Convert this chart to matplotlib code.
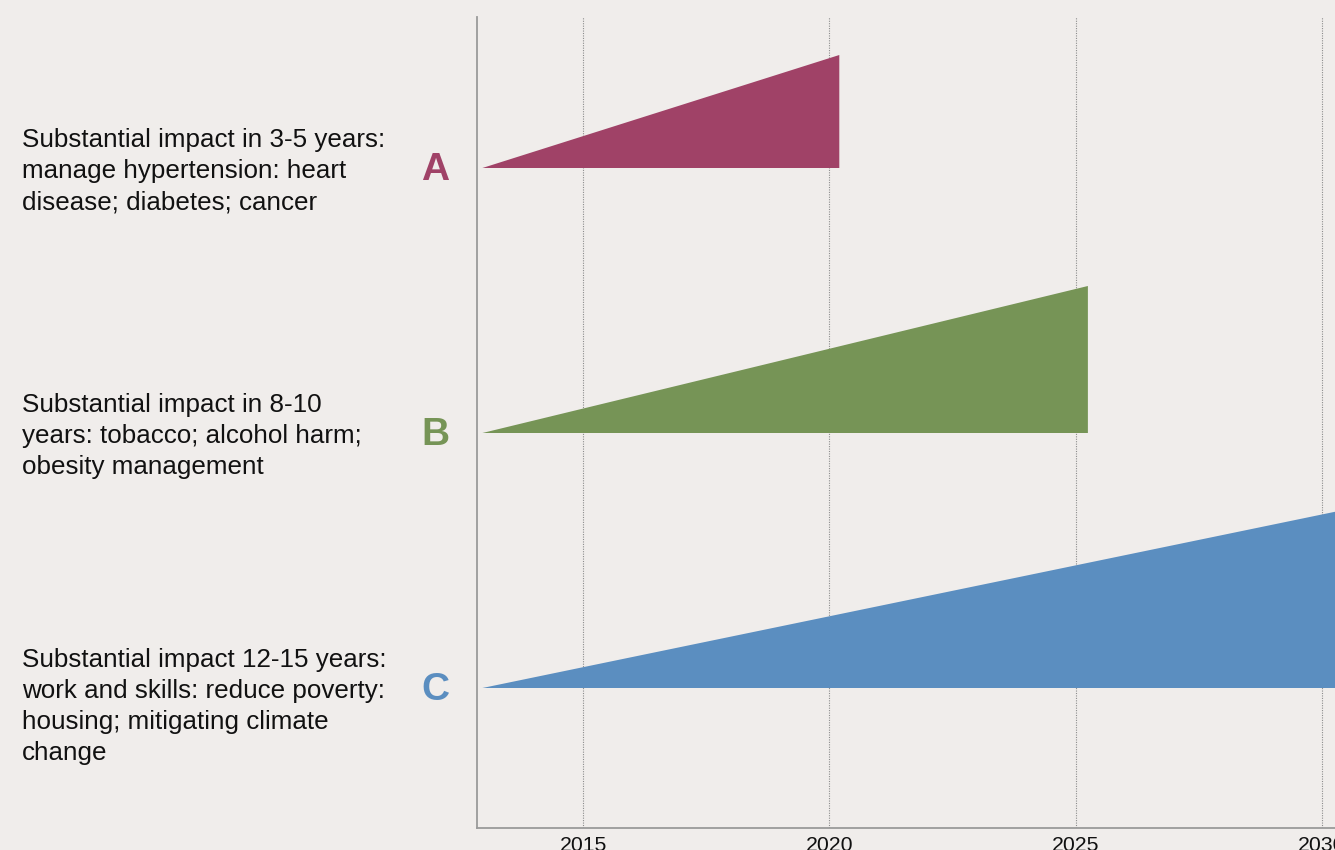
import matplotlib.pyplot as plt

# Phased impact timeline: each programme ramps up from the start year
labels = ["A", "B", "C"]
descriptions = [
    "Substantial impact in 3-5 years:\nmanage hypertension: heart\ndisease; diabetes; cancer",
    "Substantial impact in 8-10\nyears: tobacco; alcohol harm;\nobesity management",
    "Substantial impact 12-15 years:\nwork and skills: reduce poverty:\nhousing; mitigating climate\nchange",
]
start_year = 2012.95
end_years = [2020.2, 2025.25, 2033.0]
row_base = [660, 395, 140]
peak_impact = [113, 147, 204]
year_ticks = [2015, 2020, 2025, 2030]

colors = ["#a04267", "#769456", "#5b8ec0"]
bg = "#f0edeb"

plt.rcParams["font.family"] = ["Liberation Sans", "DejaVu Sans"]

fig = plt.figure(figsize=(13.35, 8.5), dpi=100, facecolor=bg)
ax = fig.add_axes([477 / 1335, 22 / 850, 1 - 477 / 1335, 811 / 850])
ax.set_facecolor(bg)

for base, end, peak, c in zip(row_base, end_years, peak_impact, colors):
    ax.fill(
        [start_year, end, end],
        [base, base + peak, base],
        color=c,
        lw=0,
        zorder=3,
    )

ax.set_xlim(2012.84, 2030.27)
ax.set_ylim(0, 811)
ax.set_xticks(year_ticks)
ax.set_yticks([])
ax.tick_params(axis="x", length=0, pad=6, labelsize=15.3, labelcolor="#111111")
ax.grid(axis="x", ls=(0, (1, 1.2)), lw=0.8, color="#8c8c8c", zorder=1)
for side in ("top", "right"):
    ax.spines[side].set_visible(False)
for side in ("left", "bottom"):
    ax.spines[side].set_color("#9a9a9a")
    ax.spines[side].set_linewidth(1.3)

# Row letters and descriptions to the left of the axis
for lab, desc, base, c in zip(labels, descriptions, row_base, colors):
    ax.annotate(
        lab,
        xy=(435, base - 2),
        xycoords=("figure pixels", "data"),
        ha="center",
        va="center",
        fontsize=28,
        fontweight="bold",
        color=c,
        annotation_clip=False,
    )
    ax.annotate(
        desc,
        xy=(22, base + 40),
        xycoords=("figure pixels", "data"),
        ha="left",
        va="top",
        fontsize=18.7,
        linespacing=1.37,
        color="#111111",
        annotation_clip=False,
    )

fig.savefig("out.png", dpi=100, facecolor=bg)
